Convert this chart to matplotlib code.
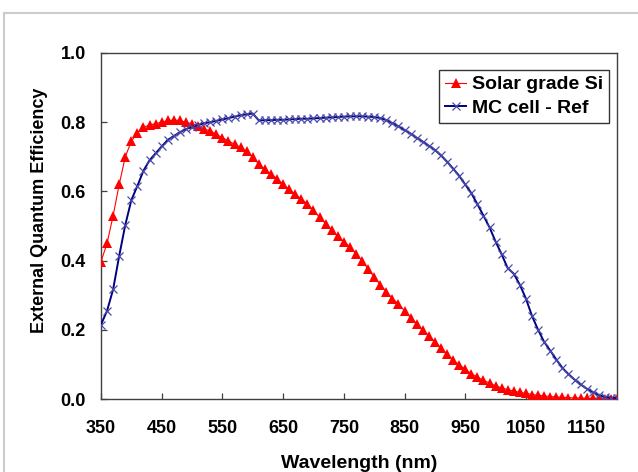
import matplotlib
matplotlib.use("Agg")
import matplotlib.pyplot as plt
from matplotlib.lines import Line2D
import numpy as np

plt.rcParams['font.family'] = ['Liberation Sans', 'DejaVu Sans']
plt.rcParams['font.weight'] = 'bold'

wavelength = list(range(350, 1201, 10))

solar_grade_si = [
    0.397, 0.45, 0.53, 0.62, 0.70, 0.745, 0.77, 0.785, 0.792, 0.796,   # 350-440
    0.80, 0.805, 0.806, 0.805, 0.80, 0.795, 0.788, 0.78, 0.775, 0.765,  # 450-540
    0.755, 0.746, 0.736, 0.727, 0.716, 0.70, 0.678, 0.664, 0.65, 0.637, # 550-640
    0.62, 0.606, 0.592, 0.578, 0.564, 0.545, 0.525, 0.507, 0.489, 0.471, # 650-740
    0.455, 0.44, 0.42, 0.40, 0.375, 0.352, 0.33, 0.31, 0.29, 0.275,     # 750-840
    0.255, 0.235, 0.218, 0.20, 0.183, 0.165, 0.148, 0.13, 0.113, 0.099, # 850-940
    0.086, 0.073, 0.063, 0.054, 0.046, 0.038, 0.032, 0.027, 0.023, 0.019, # 950-1040
    0.016, 0.013, 0.011, 0.009, 0.007, 0.006, 0.005, 0.004, 0.003, 0.003, # 1050-1140
    0.002, 0.002, 0.002, 0.001, 0.001, 0.001,                             # 1150-1200
]

mc_cell_ref = [
    0.215, 0.255, 0.317, 0.414, 0.503, 0.575, 0.616, 0.66, 0.69, 0.71,  # 350-440
    0.73, 0.749, 0.76, 0.771, 0.78, 0.787, 0.792, 0.797, 0.80, 0.804,   # 450-540
    0.808, 0.812, 0.816, 0.82, 0.823, 0.825, 0.805, 0.806, 0.806, 0.807, # 550-640
    0.807, 0.808, 0.809, 0.81, 0.81, 0.811, 0.812, 0.813, 0.814, 0.815, # 650-740
    0.816, 0.817, 0.817, 0.817, 0.816, 0.815, 0.812, 0.806, 0.797, 0.788, # 750-840
    0.777, 0.767, 0.755, 0.744, 0.732, 0.72, 0.704, 0.686, 0.666, 0.645, # 850-940
    0.62, 0.595, 0.563, 0.53, 0.496, 0.455, 0.418, 0.378, 0.362, 0.33,  # 950-1040
    0.29, 0.24, 0.20, 0.165, 0.14, 0.114, 0.09, 0.072, 0.056, 0.042,    # 1050-1140
    0.03, 0.02, 0.011, 0.006, 0.004, 0.003,                             # 1150-1200
]

x_ticks = [350, 450, 550, 650, 750, 850, 950, 1050, 1150]
y_ticks = [0.0, 0.2, 0.4, 0.6, 0.8, 1.0]

fig = plt.figure(figsize=(6.38, 4.72), dpi=100)
# outer light grey frame (top and left visible)
fig.add_artist(Line2D([4/638, 4/638], [0, 1 - 13/472], transform=fig.transFigure,
                      color='#cccccc', lw=1.5))
fig.add_artist(Line2D([4/638, 1], [1 - 13/472, 1 - 13/472], transform=fig.transFigure,
                      color='#cccccc', lw=1.5))

ax = fig.add_axes([101/638, 1 - 399/472, 516/638, 346/472])

ax.plot(wavelength, solar_grade_si, color='red', lw=0.8, marker='^',
        markersize=6.5, markeredgewidth=0, label='Solar grade Si', zorder=3)
ax.plot(wavelength, mc_cell_ref, color='#000080', lw=1.4, marker='x',
        markersize=5.5, markeredgewidth=0.9, markeredgecolor='#4a4aa8',
        label='MC cell - Ref', zorder=4)

ax.set_xlim(350, 1200)
ax.set_ylim(0, 1.0)
ax.set_xticks(x_ticks)
ax.set_yticks(y_ticks)
ax.set_yticklabels([f"{v:.1f}" for v in y_ticks])

for s in ax.spines.values():
    s.set_color('#404040')
    s.set_linewidth(1.0)

ax.tick_params(axis='both', direction='in', length=4.5, width=0.9,
               color='#404040', labelsize=13, top=False, right=False)
ax.tick_params(axis='x', pad=15)
ax.tick_params(axis='y', pad=11)
for lbl in ax.get_xticklabels() + ax.get_yticklabels():
    lbl.set_fontweight('bold')

ax.set_xlabel('Wavelength (nm)', fontsize=14, fontweight='bold', labelpad=13)
ax.set_ylabel('External Quantum Efficiency', fontsize=13, fontweight='bold')
ax.yaxis.set_label_coords((48 - 101) / 516, (399 - 210) / 346)

leg = ax.legend(loc='upper right', bbox_to_anchor=(609/638, 1 - 70/472),
                bbox_transform=fig.transFigure, borderaxespad=0,
                fancybox=False, frameon=True, edgecolor='black',
                prop={'weight': 'bold', 'size': 14}, handlelength=1.1,
                handletextpad=0.3, borderpad=0.3, labelspacing=0.3)
leg.get_frame().set_linewidth(1.0)

fig.savefig('out.png', dpi=100)
